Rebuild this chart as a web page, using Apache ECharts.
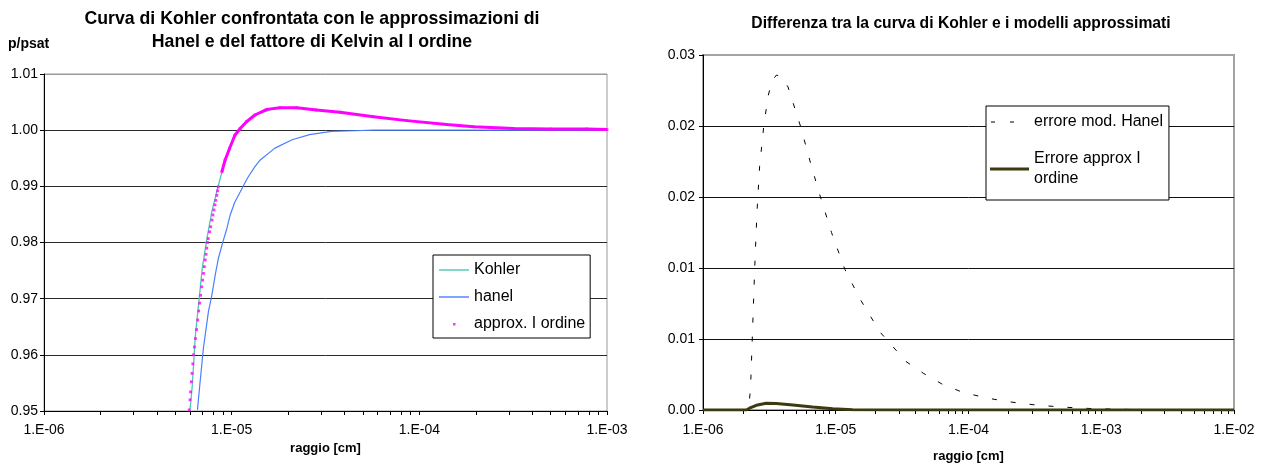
<!DOCTYPE html>
<html>
<head>
<meta charset="utf-8">
<script src="https://cdn.jsdelivr.net/npm/echarts@6/dist/echarts.min.js"></script>
<style>
  html, body { margin: 0; padding: 0; background: #fff; }
  #chart { width: 1263px; height: 468px; }
</style>
</head>
<body>
<div id="chart"></div>
<script>
// Radius in cm, saturation ratio p/psat.
const kohlerR = [5.99e-6, 6.15e-6, 6.28e-6, 6.41e-6, 6.66e-6, 6.97e-6, 7.38e-6, 7.84e-6, 8.5e-6, 9.23e-6,
  1.04e-5, 1.2e-5, 1.36e-5, 1.74e-5, 2.22e-5, 2.83e-5, 3.78e-5, 5.7e-5, 8.6e-5, 1.4e-4, 1.95e-4, 3.18e-4, 5e-4, 7.8e-4, 1e-3];
const kohlerV = [0.9500, 0.9540, 0.9588, 0.9635, 0.9689, 0.9754, 0.9807, 0.9855, 0.9902, 0.9947,
  0.9991, 1.0015, 1.0028, 1.0040, 1.0040, 1.0036, 1.0032, 1.0024, 1.0017, 1.0010, 1.0006, 1.0003, 1.0002, 1.0002, 1.0001];

const hanelR = [6.57e-6, 6.79e-6, 7.07e-6, 7.31e-6, 7.52e-6, 7.84e-6, 8.17e-6, 8.5e-6, 8.98e-6, 9.43e-6, 9.82e-6,
  1.04e-5, 1.11e-5, 1.21e-5, 1.33e-5, 1.42e-5, 1.7e-5, 2.1e-5, 2.6e-5, 3.4e-5, 4.5e-5, 5.7e-5, 1e-4, 1e-3];
const hanelV = [0.9502, 0.9552, 0.9612, 0.9647, 0.9677, 0.9706, 0.9742, 0.9772, 0.9801, 0.9825, 0.9849,
  0.9872, 0.9890, 0.9914, 0.9935, 0.9947, 0.9968, 0.9983, 0.9992, 0.9998, 0.9999, 1.0000, 1.0000, 1.0000];

const approxR = [5.94e-6, 6.00e-6, 6.04e-6, 6.10e-6, 6.15e-6, 6.21e-6, 6.26e-6, 6.33e-6, 6.41e-6, 6.50e-6,
  6.59e-6, 6.67e-6, 6.75e-6, 6.83e-6, 6.92e-6, 7.00e-6, 7.08e-6, 7.15e-6, 7.23e-6, 7.30e-6,
  7.37e-6, 7.43e-6, 7.50e-6, 7.63e-6, 7.73e-6, 7.86e-6, 7.95e-6, 8.05e-6, 8.15e-6, 8.23e-6,
  8.33e-6, 8.41e-6, 8.49e-6, 8.87e-6, 9.23e-6, 9.73e-6, 1.04e-5, 1.11e-5, 1.2e-5, 1.33e-5,
  1.54e-5, 1.81e-5, 2.22e-5, 2.83e-5, 3.78e-5, 5.7e-5, 8.6e-5, 1.4e-4, 1.95e-4, 3.18e-4, 5e-4, 7.8e-4, 1e-3];
const approxV = [0.9502, 0.9520, 0.9534, 0.9552, 0.9567, 0.9584, 0.9600, 0.9614, 0.9629, 0.9645,
  0.9662, 0.9678, 0.9692, 0.9706, 0.9721, 0.9733, 0.9745, 0.9757, 0.9769, 0.9779,
  0.9790, 0.9800, 0.9807, 0.9819, 0.9828, 0.9840, 0.9849, 0.9858, 0.9867, 0.9875,
  0.9884, 0.9892, 0.9899, 0.9926, 0.9947, 0.9967, 0.9991, 1.0003, 1.0015, 1.0027,
  1.0037, 1.0040, 1.0040, 1.0036, 1.0032, 1.0024, 1.0017, 1.0010, 1.0006, 1.0003, 1.0002, 1.0002, 1.0001];

// Difference between Kohler curve and the approximate models.
const errHanelR = [1e-6, 2.2e-6, 2.28e-6, 2.36e-6, 2.45e-6, 2.55e-6, 2.67e-6, 2.87e-6, 3.09e-6, 3.3e-6, 3.57e-6,
  3.9e-6, 4.37e-6, 5.42e-6, 6.56e-6, 7.57e-6, 9.29e-6, 1.17e-5, 1.52e-5, 2.15e-5, 3.38e-5, 4.57e-5, 6.3e-5,
  9.0e-5, 1.34e-4, 1.85e-4, 2.55e-4, 3.6e-4, 6.06e-4, 8.5e-4, 1.18e-3, 1.6e-3, 3e-3, 1e-2];
const errHanelV = [0, 0, 0.0018, 0.0066, 0.0119, 0.0167, 0.0206, 0.0240, 0.0265, 0.0278, 0.0283,
  0.0282, 0.0273, 0.0240, 0.0206, 0.0182, 0.0150, 0.0119, 0.0094, 0.0066, 0.0041, 0.0031, 0.0022,
  0.0015, 0.00104, 0.00076, 0.00054, 0.00037, 0.0002, 0.00012, 0.00008, 0.00005, 0.00002, 0];

const errApproxR = [1e-6, 2.12e-6, 2.24e-6, 2.52e-6, 2.99e-6, 3.56e-6, 4.76e-6, 6.7e-6, 9.5e-6, 1.34e-5, 3e-5, 1e-2];
const errApproxV = [0, 0, 0.00015, 0.0004, 0.00057, 0.00055, 0.00042, 0.00025, 0.0001, 0.00003, 0, 0];

// Decade tick labels, keyed by exponent.
const decadeLabels = { '-6': '1.E-06', '-5': '1.E-05', '-4': '1.E-04', '-3': '1.E-03', '-2': '1.E-02' };

const zip = (xs, ys) => xs.map((x, i) => [x, ys[i]]);
const decadeFmt = v => decadeLabels[String(Math.round(Math.log10(v)))] || '';

const SANS = '"Liberation Sans", Arial, sans-serif';

const approxData = zip(approxR, approxV);

// Legend glyphs: the leading moves fix the glyph box to itemWidth x itemHeight.
const ICON_LINE_30 = 'path://M0,0M30,14M0,6.3h30v1.4h-30z';
const ICON_DOT_30 = 'path://M0,0M30,14M14,6h2.5v2.5h-2.5z';
const ICON_DASH_39 = 'path://M0,0M39,14M1,6.5h4v1h-4zM20,6.5h4v1h-4z';
const ICON_THICK_39 = 'path://M0,0M39,14M0,5.5h39v3h-39z';

function logXAxis(min, max, gridIndex, nameGap, labelMargin) {
  return {
    type: 'log', logBase: 10, min, max, gridIndex,
    name: 'raggio [cm]', nameLocation: 'middle', nameGap,
    nameTextStyle: { fontFamily: SANS, fontWeight: 'bold', fontSize: 13, color: '#000' },
    axisLine: { show: true, lineStyle: { color: '#000', width: 1 } },
    axisTick: { show: true, inside: false, length: 4, lineStyle: { color: '#000' } },
    minorTick: { show: true, splitNumber: 9, length: 4, lineStyle: { color: '#000' } },
    splitLine: { show: false },
    minorSplitLine: { show: false },
    axisLabel: { formatter: decadeFmt, margin: labelMargin, fontFamily: SANS, fontSize: 14, color: '#000' }
  };
}

const option = {
  animation: false,
  backgroundColor: '#fff',
  graphic: [
    { type: 'text', x: 312, y: 8, style: {
        text: 'Curva di Kohler confrontata con le approssimazioni di\nHanel e del fattore di Kelvin al I ordine',
        textAlign: 'center', font: 'bold 17.7px ' + SANS, lineHeight: 23, fill: '#000' } },
    { type: 'text', x: 8, y: 37, style: { text: 'p/psat', font: 'bold 14px ' + SANS, fill: '#000' } },
    { type: 'text', x: 961, y: 16, style: {
        text: 'Differenza tra la curva di Kohler e i modelli approssimati',
        textAlign: 'center', font: 'bold 15.7px ' + SANS, fill: '#000' } }
  ],
  grid: [
    { left: 44, top: 74, width: 563, height: 337, show: true, borderColor: '#9a9a9a', borderWidth: 1 },
    { left: 703, top: 55, width: 531, height: 357, show: true, borderColor: '#a3a3a3', borderWidth: 2 }
  ],
  xAxis: [
    logXAxis(1e-6, 1e-3, 0, 16, 12),
    logXAxis(1e-6, 1e-2, 1, 40, 13)
  ],
  yAxis: [
    {
      type: 'value', gridIndex: 0, min: 0.95, max: 1.01, interval: 0.01,
      axisLine: { show: true, lineStyle: { color: '#000' } },
      axisTick: { show: true, length: 4, lineStyle: { color: '#000' } },
      splitLine: { show: true, lineStyle: { color: ['#000', '#2a2a2a', '#2a2a2a', '#2a2a2a', '#2a2a2a', '#2a2a2a', '#9a9a9a'], width: 1 } },
      axisLabel: { formatter: v => v.toFixed(2), margin: 6, fontFamily: SANS, fontSize: 14, color: '#000' }
    },
    {
      type: 'value', gridIndex: 1, min: 0, max: 0.03, interval: 0.006,
      axisLine: { show: true, lineStyle: { color: '#000' } },
      axisTick: { show: true, length: 4, lineStyle: { color: '#000' } },
      splitLine: { show: true, lineStyle: { color: ['#000', '#111', '#111', '#111', '#111', '#a3a3a3'], width: 1 } },
      axisLabel: { formatter: v => v.toFixed(2), margin: 8, fontFamily: SANS, fontSize: 14, color: '#000' }
    }
  ],
  legend: [
    {
      orient: 'vertical', left: 433, top: 255,
      padding: [6, 5, 5, 6], itemGap: 9, itemWidth: 30, itemHeight: 14,
      backgroundColor: '#fff', borderColor: '#000', borderWidth: 1, borderRadius: 0,
      textStyle: { fontFamily: SANS, fontSize: 16, color: '#000', lineHeight: 18 },
      data: [
        { name: 'Kohler', icon: ICON_LINE_30 },
        { name: 'hanel', icon: ICON_LINE_30 },
        { name: 'approx. I ordine', icon: ICON_DOT_30 }
      ]
    },
    {
      orient: 'vertical', left: 986, top: 106,
      padding: [6, 6, 1, 4], itemGap: 7, itemWidth: 39, itemHeight: 14,
      backgroundColor: '#fff', borderColor: '#000', borderWidth: 1, borderRadius: 0,
      textStyle: { fontFamily: SANS, fontSize: 16, color: '#000', lineHeight: 20 },
      formatter: n => n === 'Errore approx I ordine' ? 'Errore approx I\nordine' : n,
      data: [
        { name: 'errore mod. Hanel', icon: ICON_DASH_39 },
        { name: 'Errore approx I ordine', icon: ICON_THICK_39, textStyle: { padding: [20, 0, 0, 0] } }
      ]
    }
  ],
  series: [
    { name: 'Kohler', type: 'line', xAxisIndex: 0, yAxisIndex: 0, symbol: 'none', z: 2,
      lineStyle: { color: '#4dc8b4', width: 1.3 }, itemStyle: { color: '#4dc8b4' },
      data: zip(kohlerR, kohlerV) },
    { name: 'hanel', type: 'line', xAxisIndex: 0, yAxisIndex: 0, symbol: 'none', z: 3,
      lineStyle: { color: '#4a7fff', width: 1.2 }, itemStyle: { color: '#4a7fff' },
      data: zip(hanelR, hanelV) },
    { name: 'approx. I ordine', type: 'scatter', xAxisIndex: 0, yAxisIndex: 0, symbol: 'rect', symbolSize: 2.8, z: 5,
      itemStyle: { color: '#ff00ff' }, data: approxData },
    { name: 'approx. I ordine', type: 'line', xAxisIndex: 0, yAxisIndex: 0, symbol: 'none', z: 4,
      lineStyle: { color: '#ff00ff', width: 3 }, itemStyle: { color: '#ff00ff' },
      data: approxData.filter(p => p[0] >= 8.8e-6) },

    { name: 'errore mod. Hanel', type: 'line', xAxisIndex: 1, yAxisIndex: 1, symbol: 'none', z: 3,
      lineStyle: { color: '#000', width: 1, type: [5, 14] }, itemStyle: { color: '#000' },
      data: zip(errHanelR, errHanelV) },
    { name: 'Errore approx I ordine', type: 'line', xAxisIndex: 1, yAxisIndex: 1, symbol: 'none', z: 4,
      lineStyle: { color: '#3c3a10', width: 3 }, itemStyle: { color: '#3c3a10' },
      data: zip(errApproxR, errApproxV) }
  ]
};

const chart = echarts.init(document.getElementById('chart'), null, { renderer: 'canvas' });
chart.setOption(option);
</script>
</body>
</html>
